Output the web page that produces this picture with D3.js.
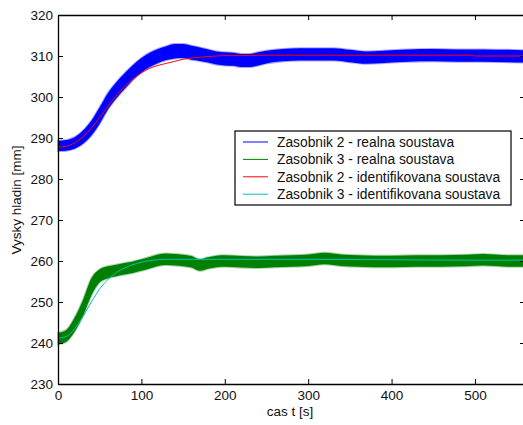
<!DOCTYPE html>
<html>
<head>
<meta charset="utf-8">
<script src="https://cdn.jsdelivr.net/npm/d3@7"></script>
<style>
body { margin: 0; background: #fff; }
svg { display: block; font-family: "Liberation Sans", Arial, sans-serif; }
</style>
</head>
<body>
<div id="svg_container"></div>
<script>
/* -----------------------
data
------------------------- */

// measured signal, shown as min / max envelope of the noisy trace
var tBlue = [0,10,20,30,40,50,60,70,80,90,100,110,120,130,140,150,160,170,180,190,200,210,220,230,240,250,270,290,310,330,350,370,390,420,450,480,510,540,560];
var blueLow = [286.8,286.9,287.4,288.6,290.6,293.5,297.0,299.7,302.0,304.2,306.0,307.3,308.3,309.0,309.4,309.5,309.1,308.8,308.4,307.9,307.7,307.6,307.3,307.3,307.7,308.2,308.7,308.9,308.9,308.9,308.5,308.1,308.3,308.6,308.7,308.6,308.6,308.5,308.4];
var blueHigh = [289.3,289.5,290.2,291.8,294.2,297.5,301.0,303.6,305.8,307.8,309.5,310.8,311.7,312.4,312.9,312.9,312.5,312.1,311.6,311.1,310.9,310.8,310.5,310.5,310.9,311.3,311.7,311.9,311.9,311.9,311.5,311.1,311.3,311.6,311.7,311.6,311.6,311.5,311.4];

var tGreen = [0,10,20,30,40,50,60,70,80,90,100,110,120,130,140,150,160,170,180,190,200,220,240,260,280,300,320,340,360,380,400,430,460,490,510,540,560];
var greenLow = [239.7,240.3,242.8,246.6,251.6,254.8,255.8,256.3,256.7,257.1,257.6,258.2,258.8,259.0,258.9,258.7,258.4,257.6,258.1,258.5,258.6,258.4,258.3,258.5,258.6,258.8,259.2,258.8,258.6,258.5,258.5,258.6,258.6,258.7,258.9,258.6,258.6];
var greenHigh = [242.5,243.2,246.2,250.5,255.8,258.0,258.7,259.1,259.5,259.9,260.4,261.0,261.6,261.8,261.7,261.5,261.2,260.4,260.9,261.3,261.4,261.2,261.1,261.3,261.4,261.6,262.0,261.6,261.4,261.3,261.3,261.4,261.4,261.5,261.7,261.4,261.4];

// identified model responses
var tModel = [0,10,20,30,40,50,60,70,80,90,100,110,120,130,140,150,160,170,180,190,200,220,250,300,400,495,500,560];
var redModel = [287.8,288.0,288.8,290.3,292.4,295.0,297.8,300.4,302.6,304.4,305.9,307.0,307.7,308.2,308.7,309.2,309.5,309.7,309.9,310.0,310.1,310.1,310.2,310.2,310.2,310.2,310.0,310.0];
var cyanModel = [241.2,241.6,243.5,246.5,250.0,253.2,255.5,257.2,258.3,259.1,259.7,260.1,260.3,260.4,260.4,260.4,260.4,260.4,260.4,260.4,260.4,260.4,260.4,260.4,260.3,260.2,260.2,260.2];

var xTicks = [0,100,200,300,400,500];
var yTicks = [230,240,250,260,270,280,290,300,310,320];

var legendNames = ["Zasobnik 2 - realna soustava", "Zasobnik 3 - realna soustava",
    "Zasobnik 2 - identifikovana soustava", "Zasobnik 3 - identifikovana soustava"];
var legendColors = ["#0000ff", "#008000", "#ff0000", "#00bfbf"];

/* -----------------------
main variables
------------------------- */

var width = 523, height = 425;
var margin = {top: 15, right: -2, bottom: 41, left: 58};
var innerW = width - margin.left - margin.right,
    innerH = height - margin.top - margin.bottom;

var svg = d3.select("#svg_container")
    .append("svg")
    .attr("width", width)
    .attr("height", height);

var plot = svg.append("g")
    .attr("transform", "translate(" + margin.left + "," + margin.top + ")");

var x = d3.scaleLinear().domain([0, 560]).range([0, innerW]);
var y = d3.scaleLinear().domain([230, 320]).range([innerH, 0]);

/* -----------------------
data marks
------------------------- */

function band(ts, lo, hi, color) {
    var area = d3.area()
        .x(function(d, i) { return x(ts[i]); })
        .y0(function(d, i) { return y(lo[i]); })
        .y1(function(d, i) { return y(hi[i]); })
        .curve(d3.curveMonotoneX);
    plot.append("path")
        .datum(ts)
        .attr("d", area)
        .attr("fill", color)
        .attr("stroke", color)
        .attr("stroke-opacity", 0.35)
        .attr("stroke-width", 2);
}

function model(ts, vals, color) {
    var line = d3.line()
        .x(function(d, i) { return x(ts[i]); })
        .y(function(d, i) { return y(vals[i]); })
        .curve(d3.curveMonotoneX);
    plot.append("path")
        .datum(ts)
        .attr("d", line)
        .attr("fill", "none")
        .attr("stroke", color)
        .attr("stroke-width", 1);
}

band(tBlue, blueLow, blueHigh, "#0000ff");
band(tGreen, greenLow, greenHigh, "#008000");
model(tModel, redModel, "#ff0000");
model(tModel, cyanModel, "#00bfbf");

/* -----------------------
axes (matlab style box, ticks inside)
------------------------- */

function styleAxis(g) {
    g.select(".domain").attr("stroke", "#000").attr("stroke-width", 1.3);
    g.selectAll(".tick line").attr("stroke", "#000").attr("stroke-width", 1);
    g.selectAll("text").attr("fill", "#111").attr("font-size", "13.5px")
        .attr("font-family", "Liberation Sans, Arial, sans-serif");
}

plot.append("g")
    .attr("transform", "translate(0," + innerH + ")")
    .call(d3.axisBottom(x).tickValues(xTicks).tickSizeInner(-5).tickSizeOuter(0).tickPadding(6))
    .call(styleAxis);

plot.append("g")
    .call(d3.axisTop(x).tickValues(xTicks).tickSizeInner(-5).tickSizeOuter(0).tickFormat(""))
    .call(styleAxis);

plot.append("g")
    .call(d3.axisLeft(y).tickValues(yTicks).tickSizeInner(-5).tickSizeOuter(0).tickPadding(5))
    .call(styleAxis);

plot.append("g")
    .attr("transform", "translate(" + innerW + ",0)")
    .call(d3.axisRight(y).tickValues(yTicks).tickSizeInner(-5).tickSizeOuter(0).tickFormat(""))
    .call(styleAxis);

svg.append("text")
    .attr("x", 290)
    .attr("y", 416)
    .attr("text-anchor", "middle")
    .attr("font-size", "13.5px")
    .attr("fill", "#111")
    .text("cas t [s]");

svg.append("text")
    .attr("transform", "translate(21,200) rotate(-90)")
    .attr("text-anchor", "middle")
    .attr("font-size", "13.5px")
    .attr("fill", "#111")
    .text("Vysky hladin [mm]");

/* -----------------------
legend
------------------------- */

var legend = svg.append("g").attr("transform", "translate(235,131)");

legend.append("rect")
    .attr("width", 276)
    .attr("height", 74)
    .attr("fill", "#fff")
    .attr("stroke", "#000")
    .attr("stroke-width", 1.2);

var rows = legend.selectAll("g.row")
    .data(legendNames)
    .enter().append("g")
    .attr("class", "row")
    .attr("transform", function(d, i) { return "translate(0," + (11 + i * 17.4) + ")"; });

rows.append("line")
    .attr("x1", 8).attr("x2", 33)
    .attr("stroke", function(d, i) { return legendColors[i]; })
    .attr("stroke-width", 1);

rows.append("text")
    .attr("x", 42)
    .attr("dy", "0.35em")
    .attr("font-size", "13.8px")
    .attr("fill", "#111")
    .text(function(d) { return d; });
</script>
</body>
</html>
